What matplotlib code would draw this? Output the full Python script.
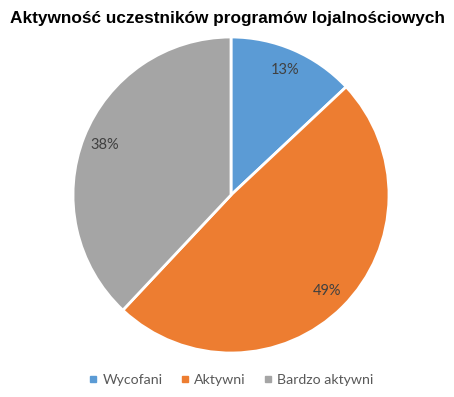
import matplotlib
matplotlib.use("Agg")
import matplotlib.pyplot as plt
from matplotlib.lines import Line2D

TITLE = "Aktywność uczestników programów lojalnościowych"
CATEGORIES = ["Wycofani", "Aktywni", "Bardzo aktywni"]
SHARES = [13, 49, 38]
COLORS = ["#5B9BD5", "#ED7D31", "#A5A5A5"]

W, H = 454, 397
CX, CY, R = 231, 202, 158   # pie centre (from bottom) and radius, px

fig = plt.figure(figsize=(W / 100, H / 100), dpi=100)
ax = fig.add_axes([(CX - R) / W, (CY - R) / H, 2 * R / W, 2 * R / H])

wedges, texts, autotexts = ax.pie(
    SHARES, colors=COLORS, startangle=90, counterclock=False,
    autopct="%1.0f%%", pctdistance=0.86,
    wedgeprops=dict(edgecolor="white", linewidth=2),
    textprops=dict(color="#404040", fontsize=10.5, family=["Lato", "DejaVu Sans"]))
ax.set_xlim(-1, 1)
ax.set_ylim(-1, 1)
ax.set_aspect("equal")
ax.axis("off")

fig.text(0.5, 1 - 18 / H, TITLE, ha="center", va="center", fontsize=12.4,
         fontweight="bold", family=["Liberation Sans", "DejaVu Sans"], color="black")

handles = [Line2D([], [], marker="s", linestyle="none", color=c, markersize=5)
           for c in COLORS]
fig.legend(handles, CATEGORIES, loc="center", bbox_to_anchor=(0.51, 1 - 380 / H),
           ncol=3, frameon=False, handlelength=0.5, handletextpad=0.4,
           columnspacing=1.3,
           prop=dict(family=["Lato", "DejaVu Sans"], size=10.2),
           labelcolor="#595959")

fig.savefig("out.png", dpi=100)
